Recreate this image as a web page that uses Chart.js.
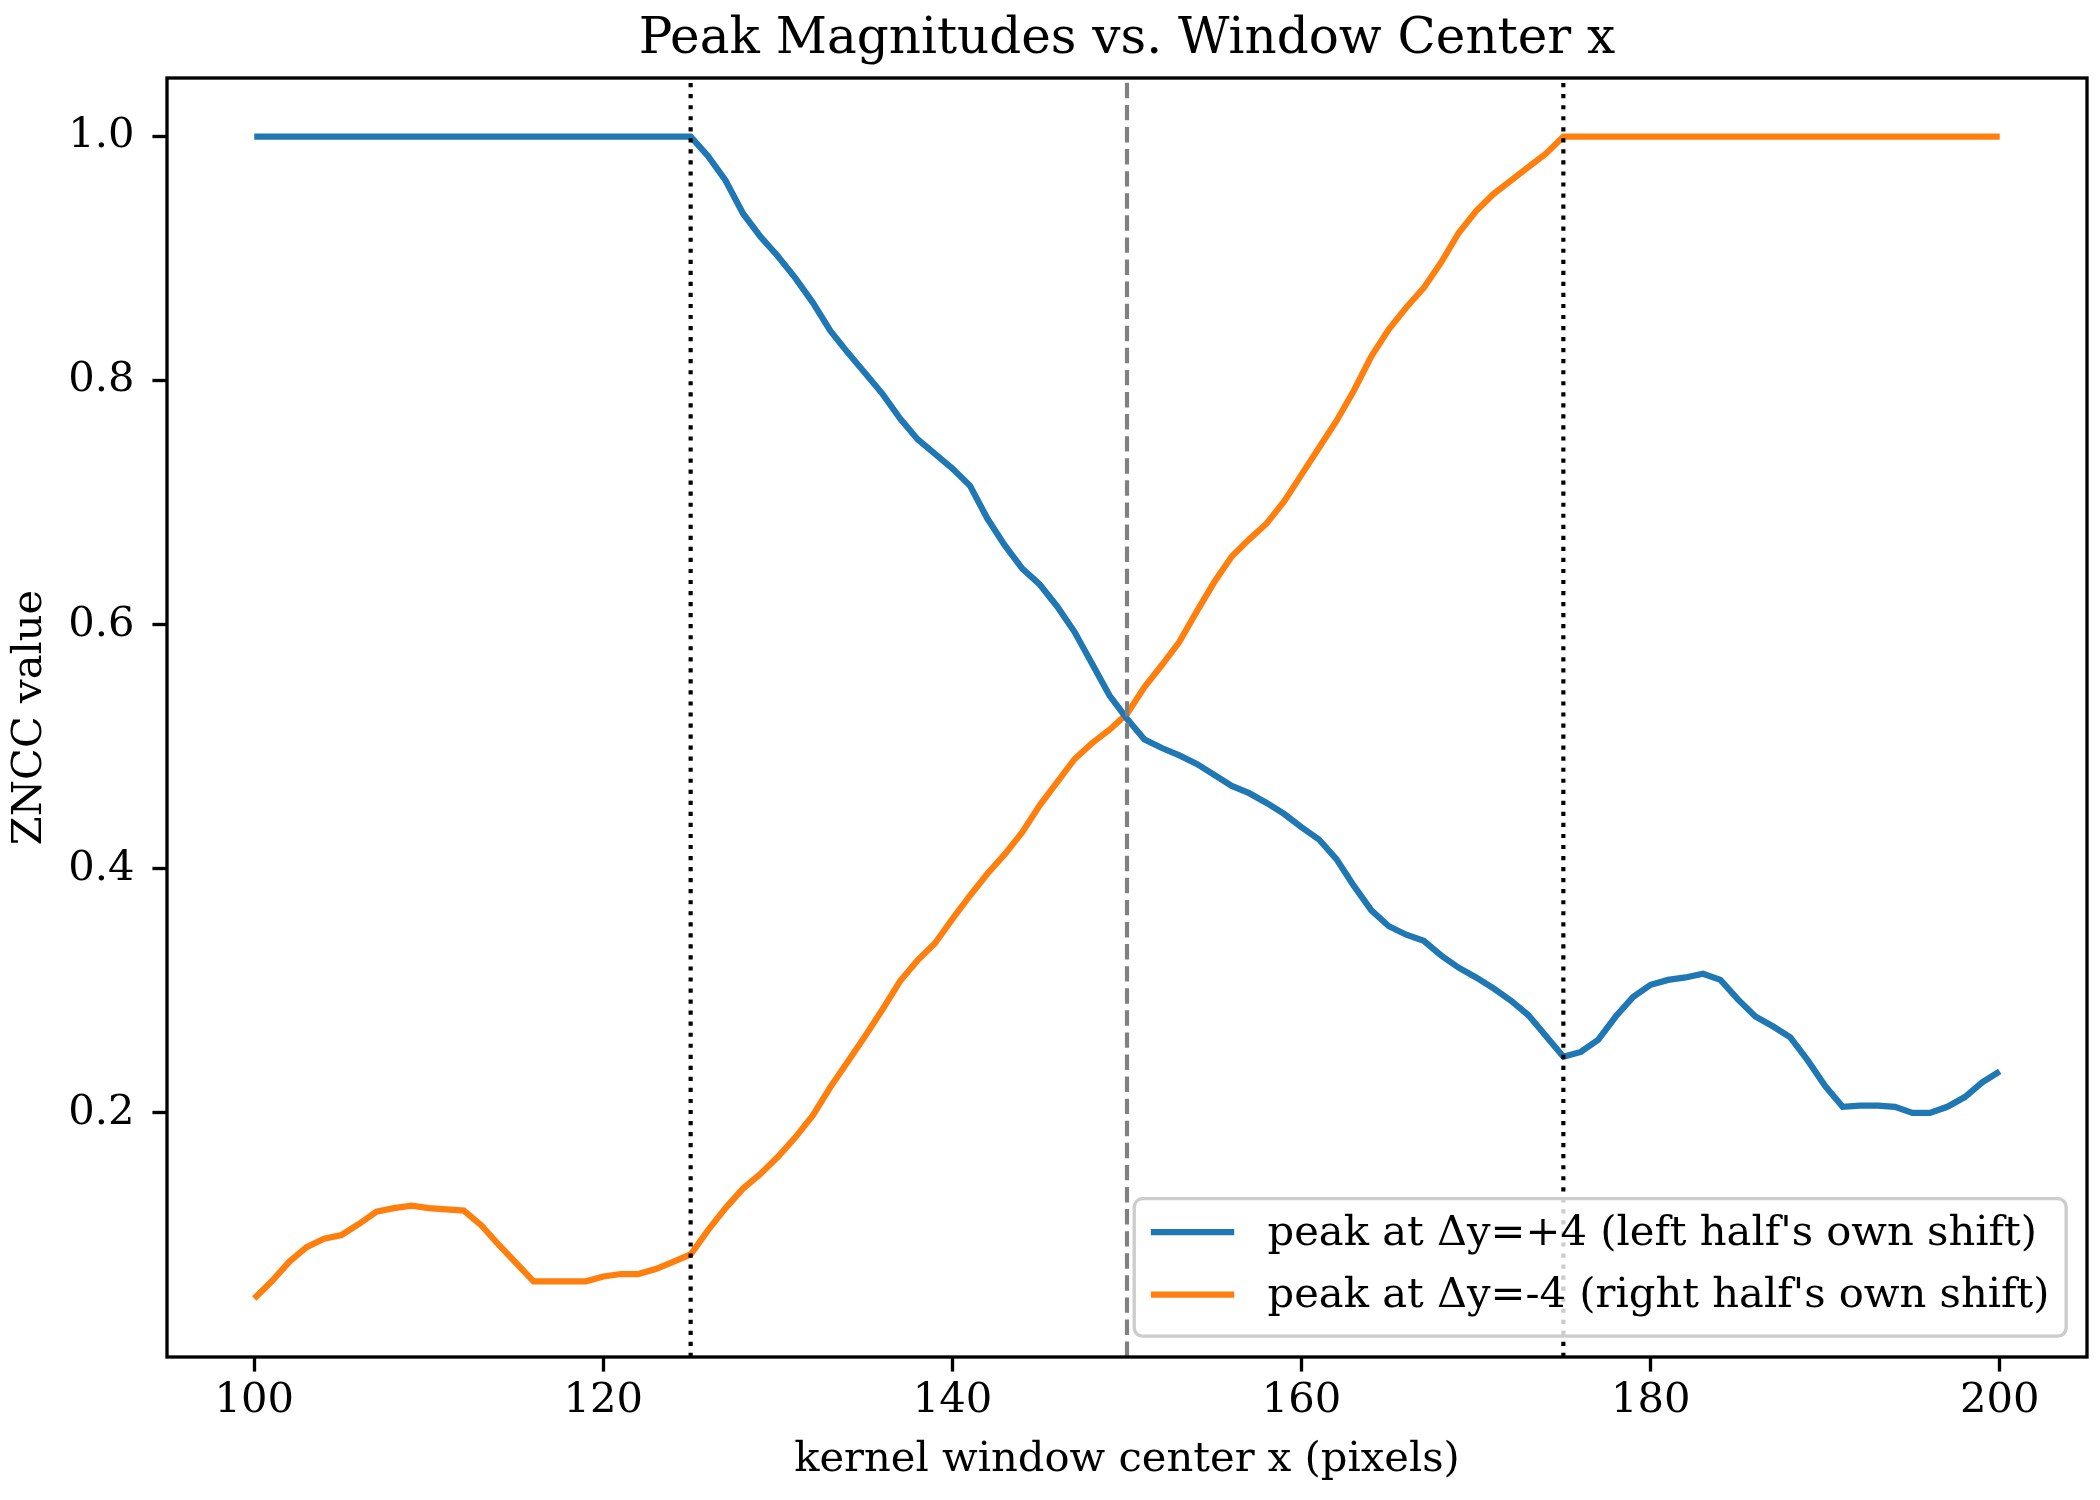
<!DOCTYPE html>
<html>
<head>
<meta charset="utf-8">
<script src="https://cdn.jsdelivr.net/npm/chart.js@4.4.1/dist/chart.umd.min.js"></script>
<style>
  html, body { margin: 0; padding: 0; background: #fff; }
  #wrap { width: 2100px; height: 1500px; }
</style>
</head>
<body>
<div id="wrap"><canvas id="chart" width="2100" height="1500"></canvas></div>
<script>
// kernel window centers (pixels)
const centers = [
  100, 101, 102, 103, 104, 105, 106, 107, 108, 109,
  110, 111, 112, 113, 114, 115, 116, 117, 118, 119,
  120, 121, 122, 123, 124, 125, 126, 127, 128, 129,
  130, 131, 132, 133, 134, 135, 136, 137, 138, 139,
  140, 141, 142, 143, 144, 145, 146, 147, 148, 149,
  150, 151, 152, 153, 154, 155, 156, 157, 158, 159,
  160, 161, 162, 163, 164, 165, 166, 167, 168, 169,
  170, 171, 172, 173, 174, 175, 176, 177, 178, 179,
  180, 181, 182, 183, 184, 185, 186, 187, 188, 189,
  190, 191, 192, 193, 194, 195, 196, 197, 198, 199,
  200
];

// ZNCC peak at dy=+4
const peakPlus4 = [
  1.0, 1.0, 1.0, 1.0, 1.0, 1.0, 1.0, 1.0, 1.0, 1.0,
  1.0, 1.0, 1.0, 1.0, 1.0, 1.0, 1.0, 1.0, 1.0, 1.0,
  1.0, 1.0, 1.0, 1.0, 1.0, 1.0, 0.984, 0.964, 0.937, 0.918,
  0.902, 0.884, 0.864, 0.841, 0.823, 0.806, 0.789, 0.769, 0.752, 0.740,
  0.728, 0.714, 0.687, 0.665, 0.646, 0.633, 0.615, 0.594, 0.568, 0.542,
  0.523, 0.506, 0.499, 0.493, 0.486, 0.477, 0.468, 0.462, 0.454, 0.445,
  0.434, 0.424, 0.408, 0.386, 0.366, 0.353, 0.346, 0.341, 0.329, 0.319,
  0.311, 0.302, 0.292, 0.280, 0.263, 0.246, 0.250, 0.260, 0.279, 0.295,
  0.305, 0.309, 0.311, 0.314, 0.309, 0.293, 0.279, 0.271, 0.262, 0.243,
  0.222, 0.205, 0.206, 0.206, 0.205, 0.200, 0.200, 0.205, 0.213, 0.225,
  0.234
];

// ZNCC peak at dy=-4
const peakMinus4 = [
  0.048, 0.062, 0.078, 0.090, 0.097, 0.100, 0.109, 0.119, 0.122, 0.124,
  0.122, 0.121, 0.120, 0.108, 0.092, 0.077, 0.062, 0.062, 0.062, 0.062,
  0.066, 0.068, 0.068, 0.072, 0.078, 0.084, 0.104, 0.122, 0.138, 0.150,
  0.164, 0.180, 0.198, 0.221, 0.242, 0.263, 0.285, 0.308, 0.325, 0.339,
  0.359, 0.378, 0.396, 0.412, 0.430, 0.452, 0.471, 0.490, 0.503, 0.514,
  0.527, 0.549, 0.567, 0.586, 0.611, 0.635, 0.656, 0.670, 0.683, 0.701,
  0.723, 0.745, 0.767, 0.792, 0.820, 0.842, 0.860, 0.876, 0.897, 0.921,
  0.939, 0.953, 0.964, 0.975, 0.986, 1.0, 1.0, 1.0, 1.0, 1.0,
  1.0, 1.0, 1.0, 1.0, 1.0, 1.0, 1.0, 1.0, 1.0, 1.0,
  1.0, 1.0, 1.0, 1.0, 1.0, 1.0, 1.0, 1.0, 1.0, 1.0,
  1.0
];

const seriesLabels = [
  "peak at \u0394y=+4 (left half's own shift)",
  "peak at \u0394y=-4 (right half's own shift)"
];
const xTicks = [100, 120, 140, 160, 180, 200];
const yTicks = [0.2, 0.4, 0.6, 0.8, 1.0];
const xLimits = [95, 205];
const yLimits = [0.0, 1.048];
const dottedMarks = [125, 175];
const dashedMarks = [150];

const FONT = 'DejaVu Serif';
const PT = 300 / 72; // px per point

// spines, vertical marker lines and the boxed legend
const framePlugin = {
  id: 'frame',
  afterDatasetsDraw(chart) {
    const { ctx, chartArea: a, scales: { x } } = chart;
    ctx.save();
    ctx.beginPath();
    ctx.rect(a.left, a.top, a.width, a.height);
    ctx.clip();
    const vline = (v, color, dash) => {
      const px = x.getPixelForValue(v);
      ctx.strokeStyle = color;
      ctx.lineWidth = 1.0 * PT;
      ctx.lineCap = 'butt';
      ctx.setLineDash(dash);
      ctx.beginPath();
      ctx.moveTo(px, a.bottom);
      ctx.lineTo(px, a.top);
      ctx.stroke();
    };
    dottedMarks.forEach(v => vline(v, '#000000', [1 * PT, 1.65 * PT]));
    dashedMarks.forEach(v => vline(v, '#808080', [3.7 * PT, 1.6 * PT]));
    ctx.restore();

    ctx.save();
    ctx.strokeStyle = '#000';
    ctx.lineWidth = 0.8 * PT;
    ctx.strokeRect(a.left, a.top, a.width, a.height);
    ctx.restore();
  },
  afterDraw(chart) {
    const { ctx, chartArea: a } = chart;
    const fs = 10 * PT;
    ctx.save();
    ctx.font = fs + 'px "' + FONT + '"';
    const sets = chart.data.datasets;
    const textW = Math.max(...sets.map(d => ctx.measureText(d.label).width));
    const pad = 0.4 * fs, hl = 2 * fs, htp = 0.8 * fs, ls = 0.5 * fs, bap = 0.5 * fs;
    const rowH = fs;
    const w = 2 * pad + hl + htp + textW;
    const h = 2 * pad + sets.length * rowH + (sets.length - 1) * ls;
    const left = a.right - bap - w;
    const top = a.bottom - bap - h;
    ctx.beginPath();
    ctx.roundRect(left, top, w, h, 0.2 * fs);
    ctx.fillStyle = 'rgba(255,255,255,0.8)';
    ctx.fill();
    ctx.strokeStyle = '#cccccc';
    ctx.lineWidth = 0.8 * PT;
    ctx.stroke();
    sets.forEach((d, i) => {
      const cy = top + pad + rowH * (i + 0.5) + ls * i - 4;
      ctx.strokeStyle = d.borderColor;
      ctx.lineWidth = 1.5 * PT;
      ctx.beginPath();
      ctx.moveTo(left + pad, cy);
      ctx.lineTo(left + pad + hl, cy);
      ctx.stroke();
      ctx.fillStyle = '#000';
      ctx.textBaseline = 'middle';
      ctx.textAlign = 'left';
      ctx.fillText(d.label, left + pad + hl + htp, cy + 2);
    });
    ctx.restore();
  }
};

const tickFont = { family: FONT, size: 10 * PT };

new Chart(document.getElementById('chart'), {
  type: 'line',
  data: {
    datasets: [
      {
        label: seriesLabels[0],
        data: centers.map((c, i) => ({ x: c, y: peakPlus4[i] })),
        borderColor: '#1f77b4',
        borderWidth: 1.5 * PT,
        pointRadius: 0,
        tension: 0,
        fill: false
      },
      {
        label: seriesLabels[1],
        data: centers.map((c, i) => ({ x: c, y: peakMinus4[i] })),
        borderColor: '#ff7f0e',
        borderWidth: 1.5 * PT,
        pointRadius: 0,
        tension: 0,
        fill: false
      }
    ]
  },
  options: {
    responsive: false,
    devicePixelRatio: 1,
    animation: false,
    layout: { padding: { left: 0, right: 13, top: 0, bottom: 0 } },
    plugins: {
      legend: { display: false },
      tooltip: { enabled: false },
      title: {
        display: true,
        fullSize: false,
        text: 'Peak Magnitudes vs. Window Center x',
        color: '#000',
        font: { family: FONT, size: 12 * PT, weight: 'normal', lineHeight: 1.2 },
        padding: { top: 10, bottom: 8 }
      }
    },
    scales: {
      x: {
        type: 'linear',
        min: xLimits[0],
        max: xLimits[1],
        afterBuildTicks: s => { s.ticks = xTicks.map(v => ({ value: v })); },
        afterFit: s => { s.height = 143; },
        grid: {
          drawOnChartArea: false,
          drawTicks: true,
          tickLength: 3.5 * PT,
          tickWidth: 0.8 * PT,
          tickColor: '#000'
        },
        border: { display: false },
        ticks: { color: '#000', font: tickFont, padding: 5, maxRotation: 0, autoSkip: false },
        title: {
          display: true,
          text: 'kernel window center x (pixels)',
          color: '#000',
          font: tickFont,
          padding: { top: 0, bottom: 15 }
        }
      },
      y: {
        type: 'linear',
        min: yLimits[0],
        max: yLimits[1],
        afterBuildTicks: s => { s.ticks = yTicks.map(v => ({ value: v })); },
        afterFit: s => { s.width = 167; },
        grid: {
          drawOnChartArea: false,
          drawTicks: true,
          tickLength: 3.5 * PT,
          tickWidth: 0.8 * PT,
          tickColor: '#000'
        },
        border: { display: false },
        ticks: {
          color: '#000',
          font: tickFont,
          padding: 18,
          callback: v => Number(v).toFixed(1)
        },
        title: {
          display: true,
          text: 'ZNCC value',
          color: '#000',
          font: tickFont,
          padding: { top: 5, bottom: 0 }
        }
      }
    }
  },
  plugins: [framePlugin]
});
</script>
</body>
</html>
